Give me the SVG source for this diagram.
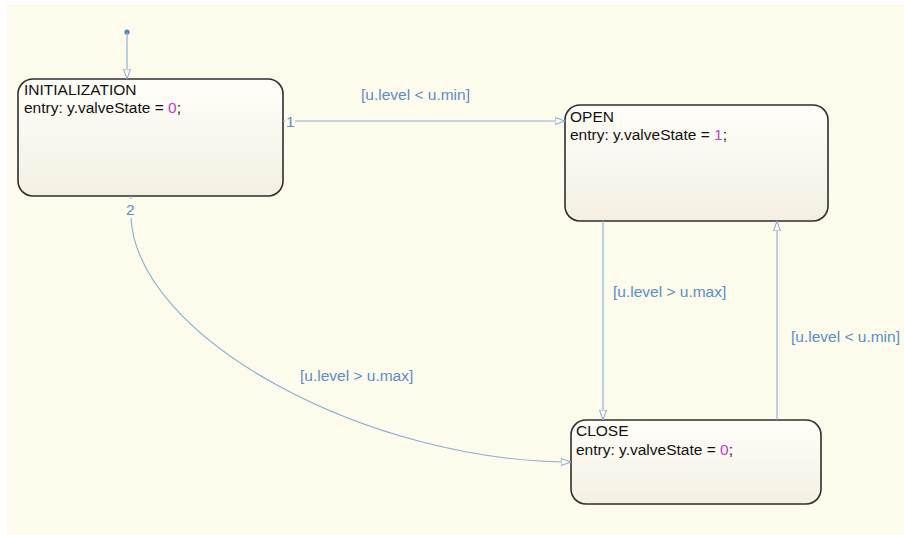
<svg xmlns="http://www.w3.org/2000/svg" width="904" height="535" viewBox="0 0 904 535">
  <defs>
    <linearGradient id="stateFill" x1="0" y1="0" x2="0" y2="1">
      <stop offset="0" stop-color="#FFFEF9"/>
      <stop offset="1" stop-color="#F3F0E2"/>
    </linearGradient>
    <marker id="openArrow" viewBox="0 0 10 8" refX="10" refY="4" markerWidth="10" markerHeight="8" markerUnits="userSpaceOnUse" orient="auto">
      <path d="M0,0.5 L10,4 L0,7.5 Z" fill="#FDFBEB" stroke="#7FA6D4" stroke-width="1"/>
    </marker>
    <style>
      .state { fill: url(#stateFill); stroke: #2E2E2E; stroke-width: 1.6; }
      .title { font-family: "Liberation Sans", Arial, sans-serif; font-size: 15.5px; fill: #111; }
      .num { fill: #C43CC4; }
      .wire { fill: none; stroke: #86ADDA; stroke-width: 1.1; }
      .guard { font-family: "Liberation Sans", Arial, sans-serif; font-size: 15.5px; fill: #5A8DC9; }
    </style>
  </defs>

  <!-- chart canvas -->
  <rect x="0" y="0" width="904" height="535" fill="#FFFFFF"/>
  <rect x="7" y="4" width="897" height="531" fill="#FDFBEB"/>

  <!-- states -->
  <g id="INITIALIZATION">
    <rect class="state" x="18" y="79" width="265" height="117" rx="15"/>
    <text class="title" x="24" y="95">INITIALIZATION</text>
    <text class="title" x="24" y="113">entry: y.valveState = <tspan class="num">0</tspan>;</text>
  </g>

  <g id="OPEN">
    <rect class="state" x="565" y="105" width="263" height="116" rx="15"/>
    <text class="title" x="570" y="122">OPEN</text>
    <text class="title" x="570" y="140">entry: y.valveState = <tspan class="num">1</tspan>;</text>
  </g>

  <g id="CLOSE">
    <rect class="state" x="571" y="420" width="250" height="84" rx="15"/>
    <text class="title" x="576" y="436">CLOSE</text>
    <text class="title" x="576" y="455">entry: y.valveState = <tspan class="num">0</tspan>;</text>
  </g>

  <!-- transitions -->
  <g id="connectors">
    <!-- default transition -->
    <circle cx="127" cy="32" r="2.6" fill="#4A84C8"/>
    <path class="wire" d="M127,32 L127,79" marker-end="url(#openArrow)"/>

    <!-- INITIALIZATION to OPEN (order 1) -->
    <path class="wire" d="M283,121 L285,121"/>
    <text class="guard" x="286" y="127">1</text>
    <path class="wire" d="M295,121 L565,121" marker-end="url(#openArrow)"/>
    <text class="guard" x="361" y="100">[u.level &lt; u.min]</text>

    <!-- INITIALIZATION to CLOSE (order 2) -->
    <path class="wire" d="M131,196 L131,199"/>
    <text class="guard" x="126" y="215">2</text>
    <path class="wire" d="M131,218 C138,340 370,462 571,462" marker-end="url(#openArrow)"/>
    <text class="guard" x="300" y="381">[u.level &gt; u.max]</text>

    <!-- OPEN to CLOSE -->
    <path class="wire" d="M603,221 L603,420" marker-end="url(#openArrow)"/>
    <text class="guard" x="613" y="297">[u.level &gt; u.max]</text>

    <!-- CLOSE to OPEN -->
    <path class="wire" d="M777,420 L777,221" marker-end="url(#openArrow)"/>
    <text class="guard" x="791" y="342">[u.level &lt; u.min]</text>
  </g>
</svg>
